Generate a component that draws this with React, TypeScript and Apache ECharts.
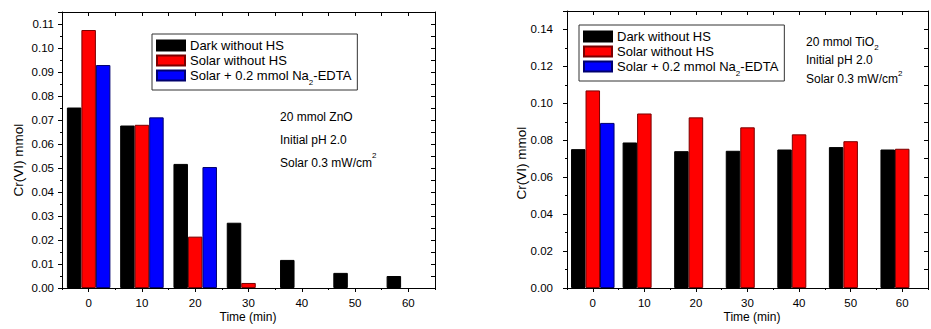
import React, { useEffect, useRef } from "react";
import * as echarts from "echarts";

// Time (min) positions
const timesZnO = [0, 10, 20, 30, 40, 50, 60];
const timesTiO2 = [0, 10, 20, 30, 40, 50, 60];

// Left chart: 20 mmol ZnO (Cr(VI) mmol)
const znoDark = [0.0752, 0.0677, 0.0517, 0.0272, 0.0117, 0.0063, 0.005];
const znoSolar = [0.1075, 0.068, 0.0214, 0.0021, null, null, null];
const znoEdta = [0.0929, 0.0711, 0.0504, null, null, null, null];

// Right chart: 20 mmol TiO2 (Cr(VI) mmol)
const tioDark = [0.0752, 0.0788, 0.0741, 0.0743, 0.075, 0.0763, 0.075];
const tioSolar = [0.107, 0.0945, 0.0924, 0.087, 0.0832, 0.0795, 0.0754];
const tioEdta = [0.0894, null, null, null, null, null, null];

const majorXTicks = [0, 10, 20, 30, 40, 50, 60];

const NAME_DARK = "Dark without HS";
const NAME_SOLAR = "Solar without HS";
const NAME_EDTA = "Solar + 0.2 mmol Na2-EDTA";

const FONT = "Liberation Sans, Arial, sans-serif";

function pairs(xs: number[], ys: (number | null)[]) {
  return xs.map((x, i) => [x, ys[i] === null ? "-" : ys[i]]);
}

const barStyles = {
  dark: { color: "#000000", borderColor: "#000000", borderWidth: 1 },
  solar: { color: "#ff0000", borderColor: "#7a0000", borderWidth: 1 },
  edta: { color: "#0000ff", borderColor: "#00006e", borderWidth: 1 },
};

const lineOn = { show: true, onZero: false, lineStyle: { color: "#000", width: 1 } };
const lineOff = { show: false, onZero: false };

function xAxesFor(g: number, labelMargin: number) {
  const base = { gridIndex: g, type: "value", min: -5, max: 65, splitLine: { show: false } };
  return [
    {
      ...base,
      position: "bottom",
      interval: 5,
      axisLine: lineOn,
      axisTick: { show: true, length: 2, lineStyle: { color: "#000" } },
      axisLabel: {
        show: true,
        margin: labelMargin,
        color: "#000",
        fontSize: 11.5,
        fontFamily: FONT,
        formatter: (v: number) => (Math.round(v) % 10 === 0 && v >= 0 && v <= 60 ? String(v) : ""),
      },
    },
    {
      ...base,
      position: "bottom",
      axisLine: lineOff,
      axisTick: { show: true, length: 4, customValues: majorXTicks, lineStyle: { color: "#000" } },
      axisLabel: { show: false },
    },
    {
      ...base,
      position: "top",
      interval: 5,
      axisLine: lineOn,
      axisTick: { show: true, inside: true, length: 4, lineStyle: { color: "#000" } },
      axisLabel: { show: false },
    },
  ];
}

function yAxesFor(g: number, max: number, interval: number, mirrorInterval: number, labelMargin: number) {
  const base = { gridIndex: g, type: "value", min: 0, max, splitLine: { show: false } };
  const isMultiple = (v: number) => Math.abs(v / interval - Math.round(v / interval)) < 1e-6;
  return [
    {
      ...base,
      position: "left",
      interval,
      axisLine: lineOn,
      axisTick: { show: true, length: 4, lineStyle: { color: "#000" } },
      minorTick: { show: true, splitNumber: 2, length: 2, lineStyle: { color: "#000" } },
      axisLabel: {
        show: true,
        margin: labelMargin,
        color: "#000",
        fontSize: 11.5,
        fontFamily: FONT,
        formatter: (v: number) => (isMultiple(v) ? v.toFixed(2) : ""),
      },
    },
    {
      ...base,
      position: "right",
      interval: mirrorInterval,
      axisLine: lineOn,
      axisTick: { show: true, inside: true, length: 4, lineStyle: { color: "#000" } },
      axisLabel: { show: false },
    },
  ];
}

function barSeries(name: string, xs: number[], ys: (number | null)[], g: number, style: any) {
  return {
    name,
    type: "bar",
    xAxisIndex: g * 3,
    yAxisIndex: g * 2,
    barWidth: 14.5,
    barGap: "0%",
    data: pairs(xs, ys),
    itemStyle: style,
    emphasis: { disabled: true },
  };
}

const legendBase = {
  orient: "vertical",
  data: [NAME_DARK, NAME_SOLAR, NAME_EDTA],
  icon: "rect",
  itemWidth: 28,
  itemHeight: 10,
  itemGap: 0,
  padding: [4, 6, 4, 4],
  borderColor: "#333",
  borderWidth: 1,
  selectedMode: false,
  formatter: (n: string) => (n === NAME_EDTA ? "Solar + 0.2 mmol Na{sub|2}-EDTA" : n),
  textStyle: {
    color: "#000",
    fontSize: 13,
    fontFamily: FONT,
    lineHeight: 15,
    padding: [0, 0, 0, 0],
    rich: {
      sub: { fontSize: 8, fontFamily: FONT, color: "#000", lineHeight: 15, verticalAlign: "bottom", padding: [0, 0, -3, 0] },
    },
  },
};

function noteText(lines: string, x: number, y: number, lineHeight: number) {
  return {
    type: "text",
    x,
    y,
    silent: true,
    style: {
      text: lines,
      fill: "#000",
      fontSize: 12,
      fontFamily: FONT,
      lineHeight,
      rich: {
        sup: { fontSize: 8, fill: "#000", fontFamily: FONT, lineHeight: 8, verticalAlign: "top" },
        sub: { fontSize: 8, fill: "#000", fontFamily: FONT, lineHeight: 8, verticalAlign: "bottom" },
      },
    },
  };
}

function titleText(text: string, x: number, y: number, rotate: boolean, size: number) {
  return {
    type: "text",
    x,
    y,
    rotation: rotate ? Math.PI / 2 : 0,
    silent: true,
    style: {
      text,
      fill: "#000",
      fontSize: size,
      fontFamily: FONT,
      align: "center",
      verticalAlign: "middle",
    },
  };
}

export default function App() {
  const ref = useRef<HTMLDivElement>(null);
  useEffect(() => {
    if (!ref.current) return;
    const chart = echarts.init(ref.current, undefined, { renderer: "svg" });
    chart.setOption({
      animation: false,
      backgroundColor: "#ffffff",
      grid: [
        { left: 62, top: 12, width: 373, height: 276 },
        { left: 567, top: 11, width: 374, height: 277 },
      ],
      xAxis: [...xAxesFor(0, 9), ...xAxesFor(1, 9)],
      yAxis: [...yAxesFor(0, 0.115, 0.01, 0.005, 8), ...yAxesFor(1, 0.15, 0.02, 0.01, 14)],
      legend: [
        { ...legendBase, left: 152, top: 34 },
        { ...legendBase, left: 579, top: 25 },
      ],
      series: [
        barSeries(NAME_DARK, timesZnO, znoDark, 0, barStyles.dark),
        barSeries(NAME_SOLAR, timesZnO, znoSolar, 0, barStyles.solar),
        barSeries(NAME_EDTA, timesZnO, znoEdta, 0, barStyles.edta),
        barSeries(NAME_DARK, timesTiO2, tioDark, 1, barStyles.dark),
        barSeries(NAME_SOLAR, timesTiO2, tioSolar, 1, barStyles.solar),
        barSeries(NAME_EDTA, timesTiO2, tioEdta, 1, barStyles.edta),
      ],
      graphic: [
        noteText("20 mmol ZnO\nInitial pH 2.0\nSolar 0.3 mW/cm{sup|2}", 280, 105, 23),
        noteText("20 mmol TiO{sub|2}\nInitial pH 2.0\nSolar 0.3 mW/cm{sup|2}", 806, 33, 18.3),
        titleText("Cr(VI) mmol", 18, 160, true, 13.5),
        titleText("Time (min)", 248, 317, false, 12),
        titleText("Cr(VI) mmol", 521, 163, true, 13.5),
        titleText("Time (min)", 752, 317, false, 12),
      ],
    });
    return () => chart.dispose();
  }, []);
  return (
    <div
      ref={ref}
      style={{ position: "fixed", left: 0, top: 0, width: 931, height: 329, background: "#fff" }}
    />
  );
}
